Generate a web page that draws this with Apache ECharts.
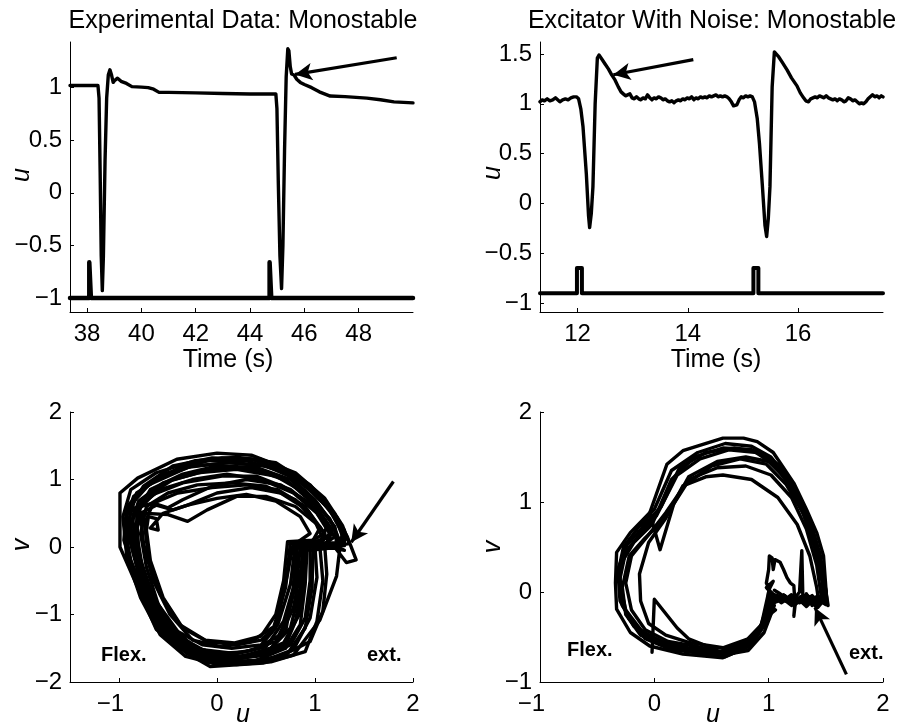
<!DOCTYPE html>
<html>
<head>
<meta charset="utf-8">
<script src="https://cdn.jsdelivr.net/npm/echarts@6/dist/echarts.min.js"></script>
<style>
  html, body { margin: 0; padding: 0; background: #fff; }
  #chart { width: 904px; height: 728px; }
</style>
</head>
<body>
<div id="chart"></div>
<script>
// tick values
const expTimeTicks = [38, 40, 42, 44, 46, 48];
const expUTicks = [-1, -0.5, 0, 0.5, 1];
const simTimeTicks = [12, 14, 16];
const simUTicks = [-1, -0.5, 0, 0.5, 1, 1.5];
const phaseUTicks = [-1, 0, 1, 2];
const expVTicks = [-2, -1, 0, 1, 2];
const simVTicks = [-1, 0, 1, 2];

// top left: experimental u(t) and stimulus
const expTrace = [
  [37.37, 1.02], [38.40, 1.02], [38.44, 0.9], [38.48, 0.2], [38.52, -0.6], [38.56, -0.93],
  [38.60, -0.6], [38.66, 0.3], [38.72, 0.9], [38.78, 1.12], [38.84, 1.17], [38.90, 1.12],
  [38.96, 1.05], [39.02, 1.07], [39.12, 1.09], [39.25, 1.06], [39.45, 1.04], [39.65, 1.01],
  [40.0, 1.005], [40.25, 1.0], [40.45, 0.985], [40.65, 0.955], [41.0, 0.955], [42.0, 0.95],
  [43.0, 0.945], [44.0, 0.94], [44.95, 0.94], [44.99, 0.8], [45.04, 0.1], [45.1, -0.6],
  [45.16, -0.91], [45.21, -0.5], [45.27, 0.4], [45.33, 1.1], [45.39, 1.37], [45.43, 1.35],
  [45.48, 1.2], [45.53, 1.13], [45.62, 1.12], [45.72, 1.08], [45.85, 1.05], [46.0, 1.03],
  [46.27, 1.0], [46.55, 0.96], [46.95, 0.92], [47.5, 0.915], [48.3, 0.9], [48.8, 0.885],
  [49.3, 0.865], [50.0, 0.855]
];
const expStim = [
  [37.37, -1], [38.08, -1], [38.08, -0.66], [38.14, -0.66], [38.14, -1],
  [44.72, -1], [44.72, -0.66], [44.78, -0.66], [44.78, -1], [50.0, -1]
];
const expArrow = [[49.4, 1.284], [45.66, 1.126]];

// top right: model with noise u(t) and stimulus
const simTrace = [
  [11.32, 1.02], [11.36, 1.04], [11.40, 1.03], [11.45, 1.05], [11.50, 1.03], [11.55, 1.04],
  [11.60, 1.06], [11.64, 1.04], [11.68, 1.02], [11.73, 1.04], [11.78, 1.05], [11.83, 1.04],
  [11.88, 1.06], [11.93, 1.07], [11.98, 1.07], [12.02, 1.05], [12.06, 0.95], [12.10, 0.77],
  [12.16, 0.3], [12.20, -0.12], [12.22, -0.24], [12.25, -0.1], [12.28, 0.17], [12.32, 1.0],
  [12.36, 1.46], [12.39, 1.49], [12.44, 1.45], [12.50, 1.4], [12.56, 1.35], [12.62, 1.29],
  [12.68, 1.24], [12.74, 1.17], [12.79, 1.12], [12.83, 1.1], [12.87, 1.08], [12.91, 1.09],
  [12.95, 1.1], [12.99, 1.06], [13.03, 1.05], [13.07, 1.07], [13.11, 1.05], [13.15, 1.04],
  [13.19, 1.06], [13.23, 1.05], [13.27, 1.09], [13.31, 1.06], [13.35, 1.04], [13.39, 1.06],
  [13.43, 1.05], [13.47, 1.07], [13.51, 1.06], [13.55, 1.04], [13.59, 1.05], [13.63, 1.03],
  [13.67, 1.02], [13.71, 1.03], [13.75, 1.01], [13.79, 1.03], [13.83, 1.04], [13.87, 1.03],
  [13.91, 1.05], [13.95, 1.04], [13.99, 1.06], [14.03, 1.05], [14.07, 1.07], [14.11, 1.04],
  [14.15, 1.06], [14.19, 1.05], [14.23, 1.07], [14.27, 1.06], [14.31, 1.07], [14.35, 1.06],
  [14.39, 1.08], [14.43, 1.07], [14.47, 1.08], [14.51, 1.09], [14.55, 1.07], [14.59, 1.08],
  [14.63, 1.07], [14.67, 1.08], [14.71, 1.07], [14.75, 1.05], [14.79, 1.02], [14.83, 0.98],
  [14.86, 0.96], [14.89, 0.99], [14.93, 1.04], [14.97, 1.07], [15.01, 1.06], [15.05, 1.08],
  [15.09, 1.07], [15.13, 1.08], [15.17, 1.07], [15.21, 1.02], [15.26, 0.85], [15.30, 0.6],
  [15.35, 0.2], [15.40, -0.22], [15.43, -0.33], [15.46, -0.15], [15.49, 0.17], [15.53, 1.17],
  [15.57, 1.52], [15.60, 1.5], [15.65, 1.47], [15.72, 1.41], [15.80, 1.34], [15.88, 1.26],
  [15.98, 1.18], [16.04, 1.11], [16.10, 1.06], [16.14, 1.03], [16.19, 1.02], [16.23, 1.05],
  [16.27, 1.06], [16.31, 1.07], [16.35, 1.06], [16.39, 1.08], [16.43, 1.07], [16.47, 1.06],
  [16.51, 1.08], [16.55, 1.06], [16.59, 1.05], [16.63, 1.04], [16.67, 1.05], [16.71, 1.03],
  [16.75, 1.05], [16.79, 1.04], [16.83, 1.02], [16.87, 1.03], [16.91, 1.06], [16.95, 1.05],
  [16.99, 1.03], [17.03, 1.04], [17.07, 1.02], [17.11, 1.0], [17.15, 1.01], [17.19, 1.0],
  [17.23, 1.02], [17.27, 1.05], [17.31, 1.07], [17.35, 1.09], [17.39, 1.07], [17.43, 1.08],
  [17.47, 1.06], [17.51, 1.08], [17.54, 1.07]
];
const simStim = [
  [11.32, -0.9], [11.99, -0.9], [11.99, -0.645], [12.08, -0.645], [12.08, -0.9],
  [15.19, -0.9], [15.19, -0.645], [15.28, -0.645], [15.28, -0.9], [17.54, -0.9]
];
const simArrow = [[14.1, 1.443], [12.65, 1.292]];

// bottom left: experimental phase portrait (u, v), one list per cycle
const expLoops = [
  [[1.2, 0.0], [1.25, -0.06], [1.22, -0.43], [1.05, -1.08], [0.78, -1.6], [0.47, -1.72], [-0.07, -1.77],
   [-0.31, -1.57], [-0.62, -1.22], [-0.86, -0.43], [-0.99, 0.0], [-0.99, 0.8], [-0.81, 1.02], [-0.41, 1.3],
   [0.0, 1.39], [0.35, 1.36], [0.64, 1.2], [0.98, 0.8], [1.22, 0.45], [1.33, 0.15], [1.42, -0.19],
   [1.32, -0.23], [1.2, 0.0]],
  [[0.9, 0.03], [0.88, -0.5], [0.8, -1.1], [0.7, -1.45], [0.4, -1.62], [0.05, -1.68], [-0.25, -1.55],
   [-0.5, -1.25], [-0.7, -0.7], [-0.85, -0.1], [-0.9, 0.4], [-0.82, 0.8], [-0.5, 1.1], [-0.1, 1.28],
   [0.3, 1.28], [0.7, 1.1], [1.0, 0.7], [1.2, 0.3], [1.25, 0.05], [1.1, 0.03], [0.9, 0.03]],
  [[0.8, 0.05], [0.75, -0.55], [0.62, -1.15], [0.45, -1.38], [0.2, -1.45], [-0.1, -1.4], [-0.35, -1.2],
   [-0.55, -0.75], [-0.68, -0.2], [-0.72, 0.25], [-0.7, 0.45], [-0.62, 0.42], [-0.6, 0.25], [-0.68, 0.28],
   [-0.55, 0.5], [-0.3, 0.62], [0.0, 0.72], [0.3, 0.78], [0.6, 0.68], [0.85, 0.45], [0.95, 0.2], [0.8, 0.05]],
  [[0.85, 0.02], [0.82, -0.45], [0.72, -1.05], [0.6, -1.4], [0.3, -1.55], [-0.02, -1.58], [-0.3, -1.45],
   [-0.55, -1.05], [-0.75, -0.45], [-0.85, 0.1], [-0.8, 0.55], [-0.65, 0.78], [-0.35, 0.95], [0.05, 1.05],
   [0.4, 1.05], [0.75, 0.85], [1.05, 0.5], [1.2, 0.15], [1.05, 0.0], [0.85, 0.02]],
  [[0.88, 0.04], [0.85, -0.6], [0.75, -1.2], [0.55, -1.5], [0.25, -1.62], [-0.1, -1.6], [-0.4, -1.4],
   [-0.62, -0.9], [-0.78, -0.3], [-0.85, 0.2], [-0.75, 0.5], [-0.5, 0.48], [-0.3, 0.38], [-0.1, 0.55],
   [0.2, 0.75], [0.5, 0.75], [0.8, 0.6], [1.05, 0.3], [1.15, 0.05], [0.88, 0.04]],
  [[0.92, 0.0], [0.9, -0.55], [0.85, -1.15], [0.7, -1.5], [0.4, -1.68], [0.0, -1.7], [-0.3, -1.58],
   [-0.58, -1.2], [-0.8, -0.6], [-0.92, 0.0], [-0.92, 0.5], [-0.75, 0.9], [-0.45, 1.2], [-0.05, 1.32],
   [0.35, 1.3], [0.72, 1.12], [1.02, 0.78], [1.22, 0.4], [1.3, 0.08], [1.12, 0.0], [0.92, 0.0]],
  [[0.78, 0.06], [0.72, -0.4], [0.6, -1.2], [0.45, -1.45], [0.15, -1.5], [-0.15, -1.45], [-0.4, -1.25],
   [-0.6, -0.85], [-0.72, -0.3], [-0.78, 0.2], [-0.72, 0.6], [-0.5, 0.8], [-0.2, 0.92], [0.15, 0.95],
   [0.5, 0.9], [0.8, 0.7], [1.0, 0.38], [1.08, 0.12], [0.95, 0.05], [0.78, 0.06]],
  [[1.0, 0.0], [1.02, -0.45], [0.95, -1.05], [0.78, -1.52], [0.45, -1.7], [0.05, -1.72], [-0.25, -1.6],
   [-0.5, -1.3], [-0.72, -0.75], [-0.88, -0.2], [-0.95, 0.35], [-0.85, 0.75], [-0.6, 1.02], [-0.25, 1.2],
   [0.15, 1.25], [0.55, 1.2], [0.88, 0.95], [1.15, 0.55], [1.28, 0.2], [1.25, 0.0], [1.0, 0.0]],
  [[0.75, 0.07], [0.7, -0.6], [0.58, -1.18], [0.35, -1.4], [0.05, -1.48], [-0.25, -1.38], [-0.48, -1.0],
   [-0.65, -0.5], [-0.75, 0.05], [-0.78, 0.5], [-0.62, 0.62], [-0.45, 0.55], [-0.3, 0.62], [0.0, 0.8],
   [0.35, 0.88], [0.65, 0.8], [0.92, 0.55], [1.1, 0.2], [0.95, 0.08], [0.75, 0.07]],
  [[0.95, 0.03], [0.95, -0.5], [0.9, -1.05], [0.75, -1.45], [0.5, -1.6], [0.15, -1.65], [-0.2, -1.55],
   [-0.45, -1.3], [-0.68, -0.8], [-0.82, -0.2], [-0.88, 0.3], [-0.8, 0.68], [-0.55, 0.95], [-0.2, 1.1],
   [0.2, 1.15], [0.6, 1.05], [0.92, 0.78], [1.15, 0.42], [1.25, 0.1], [1.15, -0.02], [0.95, 0.03]],
  [[1.05, 0.0], [1.08, -0.5], [1.02, -1.1], [0.9, -1.55], [0.55, -1.7], [0.2, -1.74], [-0.1, -1.7],
   [-0.38, -1.5], [-0.62, -1.15], [-0.82, -0.5], [-0.95, 0.1], [-0.92, 0.6], [-0.7, 0.92], [-0.3, 1.18],
   [0.1, 1.25], [0.5, 1.2], [0.85, 0.98], [1.12, 0.62], [1.3, 0.25], [1.3, 0.02], [1.05, 0.0]],
  [[0.82, 0.04], [0.8, -0.5], [0.68, -1.1], [0.5, -1.48], [0.2, -1.58], [-0.15, -1.52], [-0.42, -1.3],
   [-0.62, -0.95], [-0.75, -0.4], [-0.82, 0.2], [-0.78, 0.62], [-0.58, 0.85], [-0.25, 1.0], [0.1, 1.08],
   [0.45, 1.0], [0.78, 0.8], [1.02, 0.5], [1.15, 0.2], [1.05, 0.05], [0.82, 0.04]],
  [[0.88, 0.05], [0.86, -0.3], [0.78, -0.9], [0.65, -1.3], [0.38, -1.52], [0.08, -1.6], [-0.22, -1.5],
   [-0.48, -1.15], [-0.7, -0.6], [-0.82, -0.05], [-0.86, 0.42], [-0.75, 0.72], [-0.45, 1.0], [-0.05, 1.15],
   [0.38, 1.15], [0.72, 0.98], [1.0, 0.62], [1.18, 0.25], [1.12, 0.04], [0.88, 0.05]],
  [[0.98, 0.02], [0.97, -0.6], [0.9, -1.2], [0.72, -1.58], [0.38, -1.72], [0.0, -1.74], [-0.32, -1.62],
   [-0.58, -1.3], [-0.78, -0.75], [-0.92, -0.15], [-0.96, 0.45], [-0.88, 0.85], [-0.62, 1.1], [-0.22, 1.28],
   [0.2, 1.33], [0.6, 1.25], [0.95, 0.92], [1.2, 0.5], [1.32, 0.12], [1.2, 0.0], [0.98, 0.02]],
  [[0.72, 0.08], [0.68, -0.5], [0.6, -1.0], [0.45, -1.32], [0.18, -1.42], [-0.12, -1.38], [-0.38, -1.15],
   [-0.58, -0.7], [-0.7, -0.15], [-0.74, 0.35], [-0.65, 0.65], [-0.4, 0.8], [-0.05, 0.88], [0.3, 0.92],
   [0.62, 0.85], [0.9, 0.6], [1.05, 0.28], [0.98, 0.1], [0.72, 0.08]],
  [[1.1, 0.0], [1.12, -0.4], [1.08, -0.95], [0.95, -1.4], [0.65, -1.62], [0.3, -1.7], [-0.05, -1.66],
   [-0.35, -1.48], [-0.6, -1.05], [-0.8, -0.4], [-0.9, 0.15], [-0.88, 0.62], [-0.68, 0.95], [-0.35, 1.2],
   [0.05, 1.32], [0.45, 1.3], [0.8, 1.1], [1.1, 0.72], [1.28, 0.32], [1.35, 0.05], [1.1, 0.0]],
  [[0.8, 0.03], [0.78, -0.6], [0.7, -1.25], [0.52, -1.55], [0.22, -1.66], [-0.12, -1.64], [-0.42, -1.45],
   [-0.65, -1.0], [-0.8, -0.35], [-0.88, 0.25], [-0.84, 0.58], [-0.65, 0.65], [-0.5, 0.58], [-0.35, 0.7],
   [-0.05, 0.9], [0.3, 1.0], [0.65, 0.92], [0.95, 0.65], [1.12, 0.3], [1.05, 0.05], [0.8, 0.03]],
  [[0.9, 0.06], [0.9, -0.4], [0.84, -1.0], [0.68, -1.42], [0.42, -1.58], [0.1, -1.64], [-0.2, -1.55],
   [-0.45, -1.22], [-0.66, -0.7], [-0.8, -0.1], [-0.82, 0.5], [-0.68, 0.85], [-0.35, 1.08], [0.0, 1.2],
   [0.4, 1.18], [0.75, 1.0], [1.02, 0.65], [1.2, 0.3], [1.22, 0.06], [0.9, 0.06]],
  [[0.75, 0.07], [0.85, 0.05], [1.0, 0.03], [1.15, 0.0], [1.3, -0.05], [1.2, 0.02], [0.9, 0.06],
   [0.78, 0.0], [0.95, -0.05], [1.25, 0.0]]
];
const expPhaseArrow = [[1.8, 0.97], [1.37, 0.07]];

// bottom right: model phase portrait (u, v)
const simLoops = [
  [[1.06, -0.08], [0.98, -0.34], [0.84, -0.6], [0.6, -0.73], [0.25, -0.69], [-0.04, -0.6], [-0.21, -0.45],
   [-0.33, -0.19], [-0.34, 0.1], [-0.33, 0.44], [-0.21, 0.66], [-0.04, 0.88], [0.11, 1.42], [0.25, 1.57],
   [0.6, 1.71], [0.78, 1.71], [0.9, 1.67], [1.04, 1.55], [1.22, 1.21], [1.33, 0.92], [1.42, 0.66],
   [1.48, 0.4], [1.51, -0.12], [1.46, -0.06], [1.42, -0.1], [1.38, -0.04], [1.33, -0.09], [1.28, -0.05],
   [1.24, -0.1], [1.2, -0.03], [1.15, -0.08], [1.1, -0.02], [1.05, 0.02]],
  [[1.03, -0.05], [0.95, -0.38], [0.8, -0.58], [0.6, -0.68], [0.3, -0.62], [0.05, -0.55], [-0.15, -0.4],
   [-0.28, -0.15], [-0.3, 0.15], [-0.25, 0.45], [-0.12, 0.65], [0.02, 0.85], [0.2, 1.3], [0.4, 1.48],
   [0.65, 1.58], [0.9, 1.55], [1.1, 1.35], [1.25, 1.05], [1.38, 0.7], [1.46, 0.3], [1.5, -0.1],
   [1.44, -0.08], [1.4, -0.12], [1.35, -0.05], [1.3, -0.1], [1.26, -0.07], [1.2, -0.11], [1.14, -0.04],
   [1.08, -0.08], [1.02, 0.0]],
  [[1.0, -0.1], [0.92, -0.42], [0.78, -0.62], [0.58, -0.7], [0.35, -0.66], [0.1, -0.6], [-0.12, -0.48],
   [-0.25, -0.25], [-0.28, 0.05], [-0.22, 0.4], [-0.08, 0.6], [0.08, 0.8], [0.28, 1.2], [0.5, 1.4],
   [0.75, 1.48], [0.98, 1.42], [1.15, 1.2], [1.3, 0.88], [1.4, 0.5], [1.47, 0.1], [1.48, -0.1],
   [1.43, -0.04], [1.37, -0.11], [1.32, -0.06], [1.27, -0.12], [1.22, -0.05], [1.16, -0.1], [1.1, -0.05],
   [1.04, -0.1]],
  [[1.02, -0.12], [0.95, -0.35], [0.82, -0.52], [0.6, -0.62], [0.3, -0.56], [0.1, -0.48], [-0.05, -0.35],
   [-0.12, -0.1], [-0.13, 0.2], [-0.05, 0.55], [0.1, 0.82], [0.25, 1.18], [0.45, 1.28], [0.6, 1.3],
   [0.85, 1.25], [1.08, 1.05], [1.25, 0.75], [1.36, 0.4], [1.42, 0.05], [1.44, -0.12], [1.39, -0.07],
   [1.34, -0.13], [1.29, -0.08], [1.23, -0.14], [1.17, -0.07], [1.11, -0.12], [1.05, -0.05]],
  [[1.0, 0.0], [0.93, -0.4], [0.8, -0.62], [0.62, -0.72], [0.4, -0.68], [0.15, -0.64], [-0.08, -0.52],
   [-0.22, -0.3], [-0.3, -0.05], [-0.3, 0.3], [-0.18, 0.55], [-0.02, 0.75], [0.15, 1.25], [0.35, 1.5],
   [0.6, 1.6], [0.85, 1.58], [1.05, 1.42], [1.2, 1.15], [1.32, 0.82], [1.42, 0.48], [1.5, 0.0],
   [1.5, -0.14], [1.45, -0.1], [1.41, -0.16], [1.36, -0.08], [1.31, -0.13], [1.25, -0.08], [1.19, -0.13],
   [1.12, -0.06], [1.06, -0.1]],
  [[-0.15, 0.6], [-0.04, 0.88], [0.05, 0.47], [0.17, 0.98], [0.3, 1.28], [0.55, 1.45], [0.8, 1.5],
   [1.0, 1.45], [1.18, 1.22], [1.3, 0.95], [1.4, 0.6], [1.46, 0.2], [1.5, -0.08], [1.44, -0.13],
   [1.38, -0.07], [1.33, -0.14], [1.28, -0.06], [1.21, -0.12], [1.13, -0.03], [1.06, -0.08]],
  [[1.05, -0.15], [0.96, -0.45], [0.82, -0.65], [0.6, -0.7], [0.35, -0.64], [0.12, -0.58], [-0.1, -0.45],
   [-0.25, -0.2], [-0.32, 0.2], [-0.27, 0.5], [-0.15, 0.7], [0.0, 0.92], [0.15, 1.35], [0.38, 1.55],
   [0.62, 1.65], [0.85, 1.62], [1.02, 1.5], [1.18, 1.25], [1.3, 0.95], [1.4, 0.62], [1.47, 0.25],
   [1.52, -0.15], [1.47, -0.11], [1.43, -0.17], [1.38, -0.1], [1.33, -0.16], [1.27, -0.09], [1.2, -0.15],
   [1.13, -0.08], [1.04, -0.12]],
  [[1.04, -0.06], [0.97, -0.3], [0.85, -0.55], [0.65, -0.68], [0.42, -0.66], [0.2, -0.62], [0.0, -0.55],
   [-0.18, -0.38], [-0.3, -0.1], [-0.32, 0.25], [-0.24, 0.52], [-0.1, 0.72], [0.06, 0.95], [0.22, 1.38],
   [0.45, 1.55], [0.7, 1.6], [0.92, 1.56], [1.1, 1.4], [1.24, 1.12], [1.36, 0.8], [1.45, 0.42],
   [1.5, 0.02], [1.51, -0.12], [1.45, -0.07], [1.39, -0.13], [1.33, -0.05], [1.27, -0.11], [1.2, -0.06],
   [1.12, -0.1], [1.04, -0.06]],
  [[1.02, -0.02], [0.94, -0.36], [0.8, -0.55], [0.58, -0.66], [0.35, -0.6], [0.12, -0.55], [-0.08, -0.42],
   [-0.2, -0.2], [-0.25, 0.1], [-0.2, 0.4], [-0.06, 0.62], [0.1, 0.88], [0.3, 1.25], [0.55, 1.38],
   [0.8, 1.4], [1.02, 1.3], [1.2, 1.05], [1.33, 0.7], [1.42, 0.3], [1.46, -0.05], [1.4, -0.1],
   [1.34, -0.04], [1.28, -0.1], [1.22, -0.04], [1.15, -0.1], [1.08, -0.04], [1.02, -0.02]],
  [[-0.02, -0.67], [0.0, -0.08], [0.2, -0.4], [0.3, -0.52], [0.5, -0.62], [0.7, -0.62], [0.88, -0.5],
   [0.98, -0.25], [1.0, 0.0]],
  [[1.0, 0.02], [1.04, 0.12], [0.98, 0.05], [1.05, -0.05], [0.99, -0.15], [1.06, -0.2], [1.01, -0.25],
   [1.05, -0.1], [0.98, 0.1], [1.0, 0.25], [1.006, 0.4], [1.03, 0.38], [1.04, 0.25], [1.055, 0.36],
   [1.1, 0.33], [1.13, 0.25], [1.16, 0.16], [1.19, 0.1], [1.22, 0.07], [1.23, -0.12], [1.22, -0.27],
   [1.24, -0.05], [1.27, 0.0], [1.29, 0.46], [1.3, -0.12], [1.33, -0.02], [1.36, -0.1], [1.38, -0.15],
   [1.4, -0.06], [1.42, -0.1]]
];
const simPhaseArrow = [[1.68, -0.915], [1.405, -0.174]];

const FONT = '"Liberation Sans", Arial, sans-serif';
const BLACK = '#000';

const fmt = v => String(v).replace('-', '\u2212');

function xAxis(gridIndex, min, max, ticks) {
  return {
    type: 'value', gridIndex, min, max, position: 'bottom',
    axisLine: { show: true, onZero: false, lineStyle: { color: BLACK, width: 1 } },
    axisTick: { show: true, inside: true, length: 4, customValues: ticks, lineStyle: { color: BLACK } },
    axisLabel: {
      show: true, customValues: ticks, margin: 10, color: BLACK, fontSize: 24, fontFamily: FONT,
      // shift negative labels left a little, as in the original
      formatter: v => (v < 0 ? '{neg|' + fmt(v) + '}' : fmt(v)),
      rich: { neg: { fontSize: 24, fontFamily: FONT, color: BLACK, padding: [0, 17, 0, 0] } }
    },
    splitLine: { show: false }
  };
}

function yAxis(gridIndex, min, max, ticks) {
  return {
    type: 'value', gridIndex, min, max, position: 'left',
    axisLine: { show: true, onZero: false, lineStyle: { color: BLACK, width: 1 } },
    axisTick: { show: true, inside: true, length: 4, customValues: ticks, lineStyle: { color: BLACK } },
    axisLabel: { show: true, customValues: ticks, margin: 8, color: BLACK, fontSize: 24, fontFamily: FONT, formatter: fmt },
    splitLine: { show: false }
  };
}

function trace(idx, data, width) {
  return {
    type: 'line', xAxisIndex: idx, yAxisIndex: idx, data,
    symbol: 'none', showSymbol: false, silent: true, animation: false,
    lineStyle: { color: BLACK, width, join: 'round', cap: 'round' }
  };
}

function arrow(idx, pts) {
  const s = trace(idx, [], 3);
  s.markLine = {
    silent: true, animation: false, symbol: ['none', 'arrow'], symbolSize: [13, 17],
    lineStyle: { color: BLACK, width: 3.2, type: 'solid' },
    label: { show: false },
    data: [[{ coord: pts[0] }, { coord: pts[1] }]]
  };
  return s;
}

function label(text, x, y, opts) {
  opts = opts || {};
  return {
    type: 'text', x, y, rotation: opts.rotate ? Math.PI / 2 : 0, silent: true,
    style: {
      text, fill: BLACK, fontFamily: FONT,
      fontSize: opts.size || 25,
      fontWeight: opts.bold ? 'bold' : 'normal',
      fontStyle: opts.italic ? 'italic' : 'normal',
      textAlign: opts.align || 'center', textVerticalAlign: 'middle'
    }
  };
}

const chart = echarts.init(document.getElementById('chart'), null, { renderer: 'canvas' });

chart.setOption({
  animation: false,
  backgroundColor: '#fff',
  textStyle: { fontFamily: FONT },
  grid: [
    { left: 70, top: 42, width: 343, height: 270 },
    { left: 540, top: 42, width: 343, height: 270 },
    { left: 70, top: 412, width: 343, height: 270 },
    { left: 540, top: 412, width: 343, height: 270 }
  ],
  xAxis: [
    xAxis(0, 37.37, 50, expTimeTicks),
    xAxis(1, 11.32, 17.54, simTimeTicks),
    xAxis(2, -1.5, 2, phaseUTicks),
    xAxis(3, -1, 2, phaseUTicks)
  ],
  yAxis: [
    yAxis(0, -1.133, 1.434, expUTicks),
    yAxis(1, -1.087, 1.62, simUTicks),
    yAxis(2, -2, 2, expVTicks),
    yAxis(3, -1, 2, simVTicks)
  ],
  series: [
    trace(0, expStim, 4.5),
    trace(0, expTrace, 3.4),
    arrow(0, expArrow),
    trace(1, simStim, 4),
    trace(1, simTrace, 3.4),
    arrow(1, simArrow),
    ...expLoops.map(loop => trace(2, loop, 3.4)),
    arrow(2, expPhaseArrow),
    ...simLoops.map(loop => trace(3, loop, 3.4)),
    arrow(3, simPhaseArrow)
  ],
  graphic: [
    label('Experimental Data: Monostable', 243, 21),
    label('Excitator With Noise: Monostable', 712, 21),
    label('Time (s)', 228, 360),
    label('Time (s)', 716, 360),
    label('u', 22, 175, { italic: true, rotate: true }),
    label('u', 493, 173, { italic: true, rotate: true }),
    label('v', 22, 545, { italic: true, rotate: true }),
    label('v', 493, 547, { italic: true, rotate: true }),
    label('u', 243, 715, { italic: true }),
    label('u', 713, 715, { italic: true }),
    label('Flex.', 101, 655, { bold: true, size: 20, align: 'left' }),
    label('ext.', 367, 655, { bold: true, size: 20, align: 'left' }),
    label('Flex.', 567, 650, { bold: true, size: 20, align: 'left' }),
    label('ext.', 849, 653, { bold: true, size: 20, align: 'left' })
  ]
});
</script>
</body>
</html>
